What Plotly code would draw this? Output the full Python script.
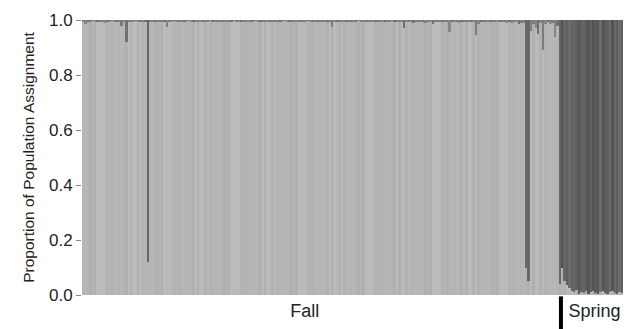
import plotly.graph_objects as go

# Proportion of assignment to the "spring" (dark) cluster for each individual
fall_dark = [
    0.005, 0.015, 0.004, 0.006, 0.003, 0.005, 0.007, 0.004, 0.005, 0.01, 0.004, 0.006, 0.003, 0.005, 0.004, 0.006, 0.02, 0.005, 0.08, 0.004,
    0.005, 0.006, 0.003, 0.005, 0.004, 0.007, 0.008, 0.88, 0.005, 0.004, 0.008, 0.006, 0.005, 0.004, 0.006, 0.025, 0.005, 0.004, 0.003, 0.006,
    0.005, 0.004, 0.006, 0.005, 0.003, 0.004, 0.006, 0.005, 0.007, 0.004, 0.005, 0.006, 0.004, 0.003, 0.005, 0.006, 0.004, 0.005, 0.008, 0.004,
    0.006, 0.005, 0.004, 0.003, 0.005, 0.006, 0.004, 0.008, 0.005, 0.004, 0.006, 0.005, 0.003, 0.004, 0.006, 0.005, 0.004, 0.007, 0.005, 0.004,
    0.005, 0.006, 0.004, 0.005, 0.003, 0.006, 0.004, 0.005, 0.008, 0.004, 0.005, 0.006, 0.004, 0.005, 0.003, 0.006, 0.008, 0.004, 0.005, 0.006,
    0.004, 0.005, 0.006, 0.004, 0.025, 0.005, 0.004, 0.006, 0.005, 0.008, 0.004, 0.005, 0.006, 0.004, 0.005, 0.003, 0.006, 0.004, 0.005, 0.006,
    0.004, 0.005, 0.007, 0.004, 0.006, 0.005, 0.004, 0.006, 0.005, 0.003, 0.004, 0.008, 0.005, 0.006, 0.03, 0.005, 0.004, 0.006, 0.01, 0.005,
    0.004, 0.006, 0.005, 0.012, 0.004, 0.005, 0.015, 0.006, 0.004, 0.005, 0.008, 0.006, 0.004, 0.045, 0.005, 0.006, 0.004, 0.01, 0.005, 0.004,
    0.006, 0.005, 0.008, 0.004, 0.055, 0.015, 0.005, 0.006, 0.004, 0.007, 0.005, 0.006, 0.004, 0.008, 0.005, 0.006, 0.004, 0.012, 0.005, 0.01,
    0.006, 0.008, 0.015, 0.01, 0.012, 0.90, 0.95, 0.04, 0.015, 0.03, 0.05, 0.012, 0.11, 0.015, 0.008, 0.015, 0.012, 0.06, 0.02, 0.96,
]
spring_dark = [
    0.90, 0.95, 0.965, 0.975, 0.985, 0.99, 0.98, 0.995, 0.99, 0.992, 0.985, 0.995, 0.99, 0.985,
    0.992, 0.995, 0.99, 0.985, 0.993, 0.995, 0.99, 0.985, 0.992, 0.995, 0.99, 0.993, 0.985, 0.995,
]
group_labels = ["Fall", "Spring"]
y_ticks = [0.0, 0.2, 0.4, 0.6, 0.8, 1.0]

dark = fall_dark + spring_dark
light = [1 - d for d in dark]
n_fall, n_spring = len(fall_dark), len(spring_dark)
n = n_fall + n_spring
x = list(range(n))

light_shades = ["#b4b6b5", "#b9bbba", "#afb1b0", "#b6b8b7", "#b1b3b2", "#babcbb", "#b3b5b4"]
dark_shades = ["#5a5c5b", "#666867", "#525453", "#606261", "#6b6d6c", "#565857", "#5e605f"]
fall_dark_shades = ["#7a7c7b", "#858786", "#707271", "#808281"]
light_cols = [light_shades[(i * 3 + i // 4) % len(light_shades)] for i in x]
dark_cols = [(fall_dark_shades[i % len(fall_dark_shades)] if i < n_fall - 1 else
              dark_shades[(i * 5 + i // 3) % len(dark_shades)]) for i in x]
for i in x:
    if i < n_fall and dark[i] > 0.5:
        dark_cols[i] = "#666867"

fig = go.Figure()
fig.add_trace(go.Bar(x=x, y=light, marker=dict(color=light_cols, line=dict(width=0)),
                     showlegend=False, hoverinfo="skip"))
fig.add_trace(go.Bar(x=x, y=dark, marker=dict(color=dark_cols, line=dict(width=0)),
                     showlegend=False, hoverinfo="skip"))

boundary = n_fall - 0.5
fig.add_shape(type="line", xref="x", yref="paper", x0=boundary, x1=boundary,
              y0=-0.005, y1=-0.2, line=dict(color="black", width=4))

fig.update_layout(
    width=623, height=321,
    margin=dict(l=74, r=3, t=12, b=34),
    barmode="stack", bargap=0,
    plot_bgcolor="white", paper_bgcolor="white",
    font=dict(family="Liberation Sans, Arial, sans-serif", color="#222222", size=16),
    xaxis=dict(range=[-0.5, n - 0.5], showgrid=False, zeroline=False, showline=False,
               tickvals=[(n_fall - 1) / 2 - 7, n_fall + (n_spring - 1) / 2],
               ticktext=group_labels, ticks="", tickfont=dict(size=18), ticklabelstandoff=3),
    yaxis=dict(range=[0, 1], tickvals=y_ticks, tickformat=".1f", showgrid=False,
               zeroline=False, showline=False, ticks="outside", ticklen=5,
               tickcolor="#888888", tickfont=dict(size=17),
               title=dict(text="Proportion of Population Assignment", font=dict(size=15.5), standoff=10)),
)

fig.write_html("out.html")
